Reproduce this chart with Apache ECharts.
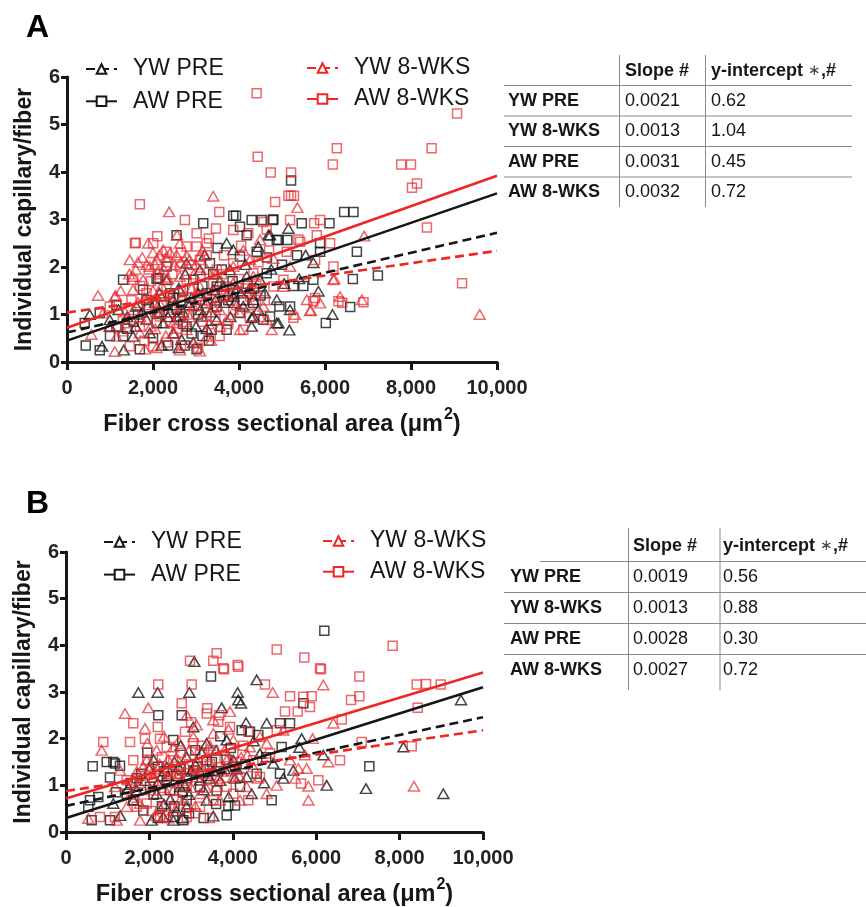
<!DOCTYPE html>
<html>
<head>
<meta charset="utf-8">
<script src="https://cdn.jsdelivr.net/npm/echarts@6/dist/echarts.min.js"></script>
<style>
  html, body { margin: 0; padding: 0; background: #fff; }
  #chart { width: 866px; height: 907px; }
</style>
</head>
<body>
<div id="chart"></div>
<script>
// Groups, in table order
const groups = ['YW PRE', 'YW 8-WKS', 'AW PRE', 'AW 8-WKS'];

// Regression parameters per panel (slope per 10 µm², intercept)
const slopesA = [0.0021, 0.0013, 0.0031, 0.0032];
const interceptsA = [0.62, 1.04, 0.45, 0.72];
const slopesB = [0.0019, 0.0013, 0.0028, 0.0027];
const interceptsB = [0.56, 0.88, 0.30, 0.72];

// Axis ticks
const xTicks = [0, 2000, 4000, 6000, 8000, 10000];
const yTicks = [0, 1, 2, 3, 4, 5, 6];

// Panel A: individual fibers [cross sectional area, capillaries per fiber]
const aYwPre = [[529,1.00],[995,0.89],[1321,0.25],[815,0.33],[2665,0.47],[2935,0.41],[3131,0.96],[3713,2.50],[3867,2.36],[4295,0.75],[4333,0.96],[4878,0.82],[5171,0.67],[5188,1.10],[4878,1.31],[5847,1.49],[5730,2.09],[6174,1.00],[5149,2.81],[4722,2.67],[4449,2.43],[3867,1.38],[3091,1.94],[2315,1.73],[1616,1.17],[1926,0.61],[2236,0.82],[2469,0.61],[3401,1.52],[4100,1.17],[4489,1.73],[4333,1.31],[995,0.75],[1537,0.54],[2781,2.08],[3480,0.89],[3247,1.24],[3790,1.94],[4179,1.80],[2469,1.31],[4917,0.82],[4295,0.93],[4683,2.67],[1750,1.05],[2050,1.25],[2400,1.05],[2600,1.55],[2850,1.20],[3000,0.75],[3350,1.05],[3550,1.70],[3650,1.25],[3950,1.55],[4150,2.05],[4600,1.45],[4750,1.95],[5050,1.65],[5400,1.75],[2150,1.45],[2750,1.85],[3200,2.25],[1400,0.95],[1200,1.10],[3050,1.45],[3800,0.95],[4450,1.10],[2550,0.95],[5550,2.25],[1600,0.75],[1850,0.90],[2100,1.05],[2350,0.95],[2500,1.20],[2700,1.05],[2900,1.35],[3100,1.10],[3250,0.70],[3450,1.30],[3650,1.60],[3900,1.25],[4050,1.45],[4250,1.55],[2600,0.30],[2200,0.35]];
const aYwWks = [[2376,3.16],[3401,3.49],[5358,3.25],[1887,2.50],[2560,2.67],[722,1.40],[568,0.58],[1111,0.22],[1810,0.27],[2083,0.30],[2626,0.25],[3091,0.23],[5654,1.08],[5304,1.00],[6911,2.65],[6857,1.31],[6196,1.73],[9597,1.00],[4761,0.68],[4800,2.18],[4489,2.57],[2781,2.23],[1926,2.01],[1537,1.80],[1111,1.38],[839,1.03],[1383,0.82],[1694,0.61],[2159,1.03],[2392,1.38],[2083,2.15],[2236,2.36],[2626,2.50],[3091,2.22],[3480,1.87],[3867,1.66],[4179,1.45],[4566,1.17],[5032,1.59],[5577,1.31],[5886,1.24],[6352,1.38],[2781,0.68],[3247,0.54],[3713,0.89],[4023,0.68],[1770,1.73],[1460,2.15],[3091,1.59],[3867,2.01],[3401,1.17],[2626,1.80],[4256,2.15],[5188,2.01],[4645,0.89],[1150,0.54],[2083,1.38],[1537,1.52],[2935,1.17],[3557,0.75],[2469,0.82],[4333,1.80],[1849,0.89],[1134,1.40],[6212,1.75],[5669,1.09],[1650,2.10],[2000,2.30],[2300,2.20],[2500,2.05],[1800,1.35],[2200,1.60],[2450,1.15],[2700,1.40],[2950,1.85],[3250,1.95],[3600,1.35],[3950,1.20],[4400,1.50],[1350,1.05],[1950,0.75],[2850,0.95],[3300,0.80],[4100,2.35],[2100,1.90],[1650,1.25],[2350,1.75],[3000,2.05],[1250,1.50],[1000,0.75],[1450,1.85],[1600,1.95],[1750,2.20],[1850,2.05],[2050,2.05],[2150,2.25],[2250,1.95],[2400,2.30],[2550,2.25],[2650,2.10],[2850,2.15],[3150,2.35],[1550,1.10],[1700,0.95],[1900,1.20],[2000,1.50],[2150,1.25],[2300,0.55],[2500,0.60],[2750,0.85],[2900,1.55],[3200,1.30],[3400,1.50],[3550,1.10],[3700,1.40],[4000,1.05],[4250,1.20],[4500,0.95],[1300,0.65],[2600,1.05],[3350,0.45],[2050,0.70],[2950,0.40]];
const aAwPre = [[412,0.82],[436,0.35],[762,0.25],[1150,0.75],[1305,0.54],[1305,1.73],[2083,1.75],[1694,0.27],[2353,0.35],[2742,0.35],[3014,0.27],[3713,0.68],[3363,0.68],[2626,0.96],[2781,0.75],[2083,0.82],[4333,1.24],[3867,1.45],[3480,1.59],[2935,1.73],[3324,2.08],[4412,2.32],[4878,2.57],[4179,2.67],[4645,1.87],[4023,2.22],[2315,2.01],[1770,1.52],[762,1.03],[3480,1.17],[4023,1.03],[3091,1.31],[2469,1.35],[3867,3.08],[3930,3.08],[3168,2.92],[2548,2.67],[4784,2.99],[4528,2.99],[5459,2.92],[5125,2.57],[5886,2.50],[5730,1.73],[5265,1.60],[5497,1.60],[5188,1.17],[4940,1.17],[4722,0.96],[4566,0.89],[5211,3.82],[6662,3.16],[6104,2.92],[6741,2.32],[7230,1.82],[6648,1.75],[6585,1.16],[6019,0.82],[4295,2.99],[4800,3.00],[6445,3.16],[5886,2.32],[4023,2.85],[2120,1.77],[4917,2.57],[1550,0.85],[1900,1.15],[2250,1.20],[2700,1.50],[3150,1.60],[3600,1.95],[4200,1.65],[4500,1.40],[5000,2.05],[5350,2.25],[2000,0.50],[2900,0.60],[3300,0.45],[3750,1.30],[1150,1.20],[1000,0.55],[3500,2.40],[4650,2.20],[1400,0.70],[1650,1.00],[1850,1.30],[2150,1.05],[2400,1.45],[2550,1.10],[2850,1.25],[3050,1.00],[3250,1.45],[3400,1.85],[3650,1.40],[3850,1.70],[4100,1.30],[4350,1.55],[2700,0.80],[3150,0.55]];
const aAwWks = [[4410,5.66],[4435,4.32],[4738,3.99],[5211,3.99],[6275,4.50],[6182,4.16],[7773,4.16],[7999,4.16],[8479,4.50],[8139,3.76],[8022,3.67],[9071,5.23],[1694,3.32],[5150,3.50],[5210,3.50],[5280,3.50],[4840,3.37],[3541,3.16],[8371,2.83],[9187,1.66],[1577,2.50],[2004,2.50],[2315,2.32],[2781,2.43],[3014,2.71],[3247,2.50],[3464,2.81],[3091,2.15],[3867,2.78],[4216,2.71],[4566,2.95],[4645,2.79],[5188,2.99],[5421,2.53],[5747,2.92],[5886,2.99],[6119,2.50],[6196,2.01],[5770,2.15],[5110,2.32],[5730,1.28],[6313,1.28],[6400,1.25],[6895,1.26],[5265,0.93],[4100,0.68],[4333,1.87],[4800,1.59],[5032,1.73],[3867,2.08],[2781,1.73],[2315,1.59],[1849,1.45],[1537,1.73],[2159,0.96],[1694,0.75],[2004,0.33],[2315,0.41],[1460,0.33],[995,1.17],[3091,1.38],[3480,1.94],[3713,1.59],[3247,0.96],[3867,1.10],[4256,1.38],[2626,2.01],[3014,2.43],[2742,2.99],[1600,2.51],[5809,2.67],[5381,2.58],[5770,1.35],[2450,1.85],[2850,1.55],[3350,1.25],[3650,2.25],[4000,1.75],[4450,2.10],[2200,1.20],[1900,1.95],[2550,0.70],[3150,0.85],[3550,0.55],[1300,0.90],[2100,2.65],[3300,2.60],[4050,2.45],[4700,2.35],[1700,1.60],[1950,1.70],[2150,1.85],[2350,2.10],[2650,2.30],[2900,2.05],[3100,1.80],[3250,2.25],[3400,1.65],[3600,1.85],[3800,1.45],[4150,1.55],[4400,1.65],[4600,1.30],[2050,1.05],[2400,0.85],[2800,1.00],[3000,1.20],[3450,0.95],[3750,0.80],[4250,0.95],[1800,0.45],[2650,0.35],[3050,0.30],[1500,1.30]];

// Panel B: individual fibers [cross sectional area, capillaries per fiber]
const bYwPre = [[1735,2.99],[2199,2.99],[2959,2.99],[3077,3.65],[4573,3.26],[4117,2.99],[4132,2.83],[4197,2.76],[3734,2.66],[4317,2.34],[4813,2.33],[5652,2.00],[5597,1.81],[6171,1.65],[6252,1.00],[7194,0.93],[8091,1.82],[9049,0.82],[9472,2.83],[5212,1.15],[4452,0.82],[3532,0.34],[2333,0.32],[2055,0.25],[2573,0.25],[2894,0.54],[3374,0.68],[4972,1.47],[4652,1.68],[4012,1.54],[3532,1.32],[3213,1.11],[2734,0.97],[2174,0.82],[1614,0.68],[1135,0.61],[3374,1.90],[3853,1.97],[2894,1.61],[2415,1.39],[4333,1.18],[5452,1.32],[3053,2.25],[1900,1.10],[2300,1.20],[2600,1.50],[3000,1.30],[3300,0.90],[3700,1.10],[4100,1.35],[2500,0.70],[2800,0.30],[1500,0.95],[2100,1.55],[3600,1.75],[4500,1.95],[2750,1.85],[3900,0.75],[1300,0.35],[2950,0.80],[4750,1.05],[1700,0.90],[2000,1.35],[2200,1.05],[2450,1.20],[2700,1.40],[2850,1.00],[3100,1.45],[3250,1.70],[3450,1.15],[3800,1.35],[4050,1.15],[2350,0.60],[2650,0.45]];
const bYwWks = [[1415,2.54],[1974,2.66],[1894,2.22],[856,1.75],[4957,2.99],[6171,3.15],[6412,2.33],[5916,2.00],[8345,0.98],[6291,1.50],[5771,1.36],[5572,1.36],[5812,0.98],[5812,0.68],[5731,1.65],[5372,1.54],[5052,1.00],[4813,0.82],[2894,2.50],[3134,2.29],[535,0.29],[1215,0.25],[1775,0.25],[2334,0.32],[1175,0.97],[1295,1.32],[1614,1.11],[1935,1.54],[2174,1.75],[2573,1.82],[3053,2.04],[3532,2.11],[4012,1.97],[4412,1.82],[4813,1.90],[5212,2.18],[4492,1.39],[4012,1.18],[3613,0.97],[3213,0.82],[2734,0.68],[2254,0.54],[1775,0.61],[1456,0.54],[2415,1.11],[2894,1.39],[3374,1.61],[3853,1.54],[4333,0.97],[3693,0.68],[2573,0.89],[2094,1.18],[3134,1.18],[4173,0.68],[3532,2.40],[3933,2.58],[4652,2.04],[2000,0.90],[2450,1.55],[2700,1.25],[3000,0.95],[3250,1.40],[3450,1.85],[3750,1.30],[4200,1.60],[2200,1.35],[1700,1.30],[2600,0.45],[3100,0.55],[3900,2.20],[4600,1.15],[5500,1.15],[2350,2.05],[1550,0.80],[1750,1.05],[1850,1.40],[2050,1.25],[2250,1.45],[2350,0.95],[2500,1.30],[2650,1.60],[2800,1.10],[2950,1.75],[3150,1.50],[3300,1.25],[3500,1.40],[3650,1.15],[3800,1.75],[4000,1.45],[4150,1.20],[4350,1.65],[2150,0.35],[2450,0.30],[2900,0.60],[3350,0.95],[1950,1.90],[2700,1.95]];
const bAwPre = [[640,1.41],[976,1.50],[1175,1.47],[1055,1.17],[2213,2.50],[2775,2.50],[3477,3.33],[576,0.68],[535,0.54],[616,0.25],[775,0.75],[1055,0.25],[1614,0.68],[1854,0.46],[2573,0.32],[2814,0.25],[3853,0.36],[4053,0.57],[3893,0.57],[4932,0.68],[5172,1.82],[5372,2.33],[5132,2.33],[5691,2.76],[7274,1.41],[4213,2.18],[4612,2.08],[4412,2.15],[3374,1.54],[3053,1.32],[2415,1.11],[2014,0.97],[1456,0.82],[3613,0.89],[4173,0.97],[4572,1.25],[5132,1.25],[2894,0.68],[3213,0.97],[2573,1.97],[6195,4.31],[1295,1.42],[1135,1.50],[1700,1.15],[2200,1.40],[2650,1.20],[3100,1.75],[3500,1.50],[3950,1.80],[4300,1.45],[2300,0.55],[2950,0.40],[3300,0.30],[1950,1.70],[2800,0.85],[3700,2.05],[4800,1.60],[1200,0.85],[3600,0.60],[1550,1.05],[1800,1.25],[2100,0.80],[2350,1.30],[2500,0.90],[2750,1.35],[2900,1.15],[3150,1.40],[3400,1.20],[3650,1.30],[3850,1.55],[4050,1.40],[2200,0.30],[2600,0.55]];
const bAwWks = [[8410,3.16],[8986,3.16],[7034,3.33],[7034,2.91],[6835,2.83],[6612,2.41],[8434,2.66],[8290,1.84],[7091,1.93],[6571,1.54],[6051,1.11],[5636,1.04],[5691,2.90],[5892,2.91],[5372,2.91],[5851,2.68],[5252,2.58],[5556,2.58],[6091,3.51],[4772,3.16],[4132,3.54],[3772,3.51],[3014,3.16],[2775,2.76],[2213,3.16],[894,1.93],[1535,1.93],[1614,2.33],[1894,2.00],[2254,2.00],[2854,2.15],[3652,2.36],[3933,2.25],[4372,2.15],[3374,2.54],[5053,2.18],[815,0.32],[1175,0.32],[1695,0.54],[2254,0.32],[2894,0.32],[3213,0.54],[3532,0.68],[4012,0.82],[4372,0.68],[4173,1.18],[3693,1.39],[3213,1.68],[2573,1.54],[2014,1.32],[1456,1.11],[1614,1.54],[2415,1.82],[3053,1.90],[3532,1.75],[4012,1.68],[4492,1.54],[4892,1.68],[4652,1.18],[2894,0.97],[2254,0.89],[3374,1.11],[2734,1.25],[1935,0.61],[3853,0.97],[7834,3.99],[2974,3.67],[3532,3.67],[3613,3.83],[3789,3.49],[4117,3.58],[5053,3.91],[5715,3.74],[6115,3.49],[8633,3.17],[3389,2.65],[3677,2.50],[1650,0.85],[1800,1.20],[1950,1.55],[2100,1.10],[2300,1.60],[2450,1.35],[2600,1.05],[2750,1.70],[2950,1.45],[3100,1.25],[3250,1.85],[3450,1.45],[3600,1.20],[3800,1.60],[3950,1.30],[4100,1.50],[4250,1.85],[2400,0.55],[2650,0.70],[3100,0.40],[3450,0.30],[2200,2.25],[3000,2.35],[2050,0.45]];

const FONT = '"Liberation Sans", Arial, Helvetica, sans-serif';
const BLACK = '#161616';
const RED_LINE = '#ee2624';
const RED_MARK = 'rgba(230, 40, 45, 0.88)';
const X_MAX = xTicks[xTicks.length - 1];

const grids = [
  { left: 67, top: 77, width: 430, height: 285, outerBoundsMode: 'none' },
  { left: 66, top: 552, width: 417, height: 280, outerBoundsMode: 'none' }
];

function xAxisFor(i) {
  return {
    gridIndex: i, type: 'value',
    min: xTicks[0], max: X_MAX, interval: xTicks[1] - xTicks[0],
    name: 'Fiber cross sectional area ({mu|μ}m{sup|2})',
    nameLocation: 'middle', nameGap: 45,
    nameTextStyle: {
      fontFamily: FONT, fontSize: 23.5, fontWeight: 'bold', color: BLACK,
      rich: {
        mu: { fontFamily: FONT, fontSize: 23.5, fontWeight: 'bold', color: BLACK },
        sup: { fontFamily: FONT, fontSize: 16, fontWeight: 'bold', color: BLACK, padding: [0, 0, 19, 1] }
      }
    },
    splitLine: { show: false },
    axisLine: { lineStyle: { color: BLACK, width: 3 } },
    axisTick: { length: 8, lineStyle: { color: BLACK, width: 3 } },
    axisLabel: {
      margin: 16, fontFamily: FONT, fontSize: 20, fontWeight: 'bold', color: '#222',
      formatter: v => String(v).replace(/\B(?=(\d{3})+(?!\d))/g, ',')
    }
  };
}

function yAxisFor(i) {
  return {
    gridIndex: i, type: 'value',
    min: yTicks[0], max: yTicks[yTicks.length - 1], interval: 1,
    name: 'Individual capillary/fiber',
    nameLocation: 'middle', nameGap: 31,
    nameTextStyle: { fontFamily: FONT, fontSize: 23, fontWeight: 'bold', color: BLACK },
    splitLine: { show: false },
    axisLine: { lineStyle: { color: BLACK, width: 3 } },
    axisTick: { length: 6, lineStyle: { color: BLACK, width: 3 } },
    axisLabel: { margin: 7, fontFamily: FONT, fontSize: 20, fontWeight: 'bold', color: '#222' }
  };
}

const styleOf = {
  'YW PRE':   { color: BLACK,    mark: BLACK,    dashed: true,  symbol: 'triangle' },
  'YW 8-WKS': { color: RED_LINE, mark: RED_MARK, dashed: true,  symbol: 'triangle' },
  'AW PRE':   { color: BLACK,    mark: BLACK,    dashed: false, symbol: 'rect' },
  'AW 8-WKS': { color: RED_LINE, mark: RED_MARK, dashed: false, symbol: 'rect' }
};

const panels = [
  { slopes: slopesA, intercepts: interceptsA,
    points: { 'YW PRE': aYwPre, 'YW 8-WKS': aYwWks, 'AW PRE': aAwPre, 'AW 8-WKS': aAwWks } },
  { slopes: slopesB, intercepts: interceptsB,
    points: { 'YW PRE': bYwPre, 'YW 8-WKS': bYwWks, 'AW PRE': bAwPre, 'AW 8-WKS': bAwWks } }
];

const lineSeries = [];
const scatterSeries = [];
panels.forEach((p, pi) => {
  groups.forEach((g, gi) => {
    const s = styleOf[g];
    const b = p.intercepts[gi];
    const m = p.slopes[gi];
    lineSeries.push({
      type: 'line', name: g, xAxisIndex: pi, yAxisIndex: pi,
      data: [[0, b], [X_MAX, b + m * X_MAX / 10]],
      symbol: s.symbol === 'rect' ? 'emptyRect' : 'emptyTriangle',
      showSymbol: false, silent: true, z: 5,
      color: s.color,
      itemStyle: { color: s.color },
      lineStyle: { color: s.color, width: 2.6, type: s.dashed ? [9, 5] : 'solid' }
    });
  });
  // black marks first, red ones on top
  ['AW PRE', 'YW PRE', 'AW 8-WKS', 'YW 8-WKS'].forEach(g => {
    const s = styleOf[g];
    scatterSeries.push({
      type: 'scatter', name: g, xAxisIndex: pi, yAxisIndex: pi,
      data: p.points[g],
      symbol: s.symbol,
      symbolSize: s.symbol === 'rect' ? 9 : [11, 9.5],
      silent: true, z: 2,
      itemStyle: { color: 'rgba(0,0,0,0)', borderColor: s.mark, borderWidth: 1.5 }
    });
  });
});

function legendAt(left, top, names, gap) {
  return {
    left, top, padding: 0, orient: 'vertical', data: names, selectedMode: false,
    itemWidth: 31, itemHeight: 12, itemGap: gap,
    textStyle: { fontFamily: FONT, fontSize: 23, color: BLACK, lineHeight: 24, padding: [0, 0, 0, 11] }
  };
}

// Regression summary tables drawn as text and rules
function tableGraphics(cfg, slopes, intercepts) {
  const els = [];
  const rule = { stroke: '#8a8a8a', lineWidth: 1 };
  cfg.hLines.forEach((y, i) => {
    els.push({ type: 'line', shape: { x1: cfg.hStart[i], y1: y, x2: cfg.right, y2: y }, style: rule, silent: true });
  });
  cfg.vLines.forEach(x => {
    els.push({ type: 'line', shape: { x1: x, y1: cfg.vTop, x2: x, y2: cfg.vBottom }, style: rule, silent: true });
  });
  const head = { fontFamily: FONT, fontSize: 18, fontWeight: 'bold', fill: BLACK, verticalAlign: 'middle' };
  els.push({ type: 'text', x: cfg.col1, y: cfg.rows[0], style: Object.assign({ text: 'Slope #' }, head) });
  els.push({ type: 'text', x: cfg.col2, y: cfg.rows[0], style: Object.assign({
    text: 'y-intercept {n|∗},#',
    rich: { n: { fontFamily: FONT, fontSize: 15, fontWeight: 'normal', fill: '#444' } }
  }, head) });
  groups.forEach((g, i) => {
    const y = cfg.rows[i + 1];
    els.push({ type: 'text', x: cfg.col0, y, style: Object.assign({ text: g }, head) });
    const val = { fontFamily: FONT, fontSize: 18, fill: BLACK, verticalAlign: 'middle' };
    els.push({ type: 'text', x: cfg.col1, y, style: Object.assign({ text: slopes[i].toFixed(4) }, val) });
    els.push({ type: 'text', x: cfg.col2, y, style: Object.assign({ text: intercepts[i].toFixed(2) }, val) });
  });
  return els;
}

const tableA = {
  col0: 508, col1: 625, col2: 711, right: 852,
  rows: [71, 101.5, 131.5, 162.5, 192.5],
  hLines: [85.5, 116, 146.5, 177], hStart: [504, 504, 504, 504],
  vLines: [619.5, 705.5], vTop: 55, vBottom: 207
};
const tableB = {
  col0: 510, col1: 633, col2: 723, right: 866,
  rows: [546, 577.5, 608.5, 639.5, 670.5],
  hLines: [561.5, 592.5, 623.5, 654.5], hStart: [540, 504, 504, 504],
  vLines: [628.5, 720], vTop: 528, vBottom: 690
};

const letterStyle = { fontFamily: FONT, fontSize: 32, fontWeight: 'bold', fill: '#000' };

const option = {
  animation: false,
  backgroundColor: '#fff',
  grid: grids,
  xAxis: [xAxisFor(0), xAxisFor(1)],
  yAxis: [yAxisFor(0), yAxisFor(1)],
  legend: [
    legendAt(85, 57, ['YW PRE', 'AW PRE'], 8.3),
    legendAt(306, 56, ['YW 8-WKS', 'AW 8-WKS'], 7),
    legendAt(103, 530, ['YW PRE', 'AW PRE'], 8.6),
    legendAt(322, 529, ['YW 8-WKS', 'AW 8-WKS'], 6.7)
  ],
  graphic: [
    { type: 'text', x: 26, y: 12, style: Object.assign({ text: 'A' }, letterStyle) },
    { type: 'text', x: 26, y: 488, style: Object.assign({ text: 'B' }, letterStyle) }
  ].concat(tableGraphics(tableA, slopesA, interceptsA), tableGraphics(tableB, slopesB, interceptsB)),
  series: lineSeries.concat(scatterSeries)
};

const chart = echarts.init(document.getElementById('chart'), null, { renderer: 'canvas' });
chart.setOption(option);
</script>
</body>
</html>
